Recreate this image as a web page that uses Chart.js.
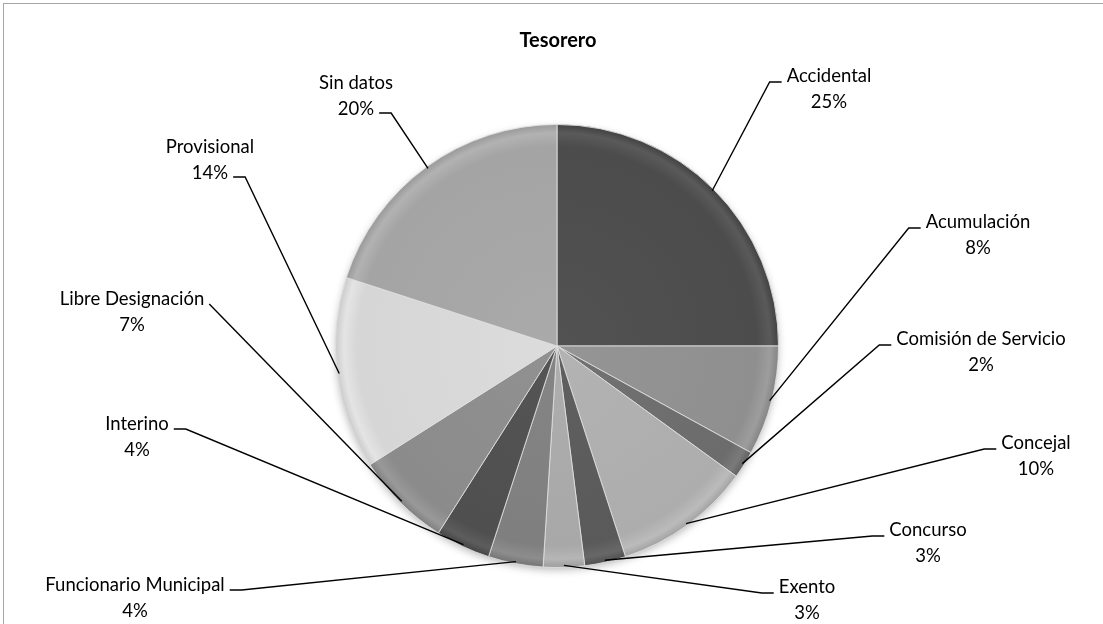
<!DOCTYPE html>
<html>
<head>
<meta charset="utf-8">
<title>Tesorero</title>
<script src="https://cdn.jsdelivr.net/npm/chart.js@4/dist/chart.umd.min.js"></script>
<style>
    html, body { margin: 0; padding: 0; background: #fff; }
    #wrap { width: 1103px; height: 624px; }
</style>
</head>
<body>
<div id="wrap"><canvas id="tesoreroChart" width="1103" height="624"></canvas></div>
<script>
// datos del gráfico (porcentajes)
const categories = ['Accidental', 'Acumulación', 'Comisión de Servicio', 'Concejal', 'Concurso', 'Exento',
    'Funcionario Municipal', 'Interino', 'Libre Designación', 'Provisional', 'Sin datos'];
const values = [25, 8, 2, 10, 3, 3, 4, 4, 7, 14, 20];
const chartTitle = 'Tesorero';

// tonos de gris de cada sector
const palette = ['#4c4c4c', '#8f8f8f', '#6c6c6c', '#adadad', '#5a5a5a', '#a8a8a8',
    '#7f7f7f', '#4f4f4f', '#8b8b8b', '#d6d6d6', '#a4a4a4'];

// posición de las etiquetas (centro del texto, primera línea) y lado de la guía
const labelLayout = [
    { x: 829, y: 76, side: 'left' },
    { x: 978, y: 222, side: 'left' },
    { x: 981, y: 339, side: 'left' },
    { x: 1036, y: 443, side: 'left' },
    { x: 928, y: 530, side: 'left' },
    { x: 807, y: 587, side: 'left' },
    { x: 135, y: 585, side: 'right1' },
    { x: 137, y: 424, side: 'right1' },
    { x: 132, y: 299, side: 'right1', seg: 0 },
    { x: 210, y: 147, side: 'right2' },
    { x: 356, y: 83, side: 'right2' }
];

const LABEL_FONT = '18.5px Lato, "Open Sans", sans-serif';
const LINE_GAP = 26;

function shade(hex, amt) {
    const n = parseInt(hex.slice(1), 16);
    const c = (v) => Math.max(0, Math.min(255, v + amt));
    const r = c(n >> 16), g = c((n >> 8) & 255), b = c(n & 255);
    return `rgb(${r},${g},${b})`;
}

function sliceFill(context) {
    const base = palette[context.dataIndex];
    const area = context.chart.chartArea;
    if (!area) return base;
    const cx = (area.left + area.right) / 2;
    const cy = (area.top + area.bottom) / 2;
    const r = Math.min(area.width, area.height) / 2;
    const g = context.chart.ctx.createRadialGradient(cx, cy, 0, cx, cy, r);
    g.addColorStop(0, shade(base, 6));
    g.addColorStop(0.9, base);
    g.addColorStop(0.96, shade(base, 14));
    g.addColorStop(1, shade(base, -12));
    return g;
}

// marco, título y sombra del pastel
const framePlugin = {
    id: 'frame',
    beforeDraw(chart) {
        const ctx = chart.ctx;
        ctx.save();
        ctx.fillStyle = '#fff';
        ctx.fillRect(0, 0, chart.width, chart.height);
        ctx.strokeStyle = '#a6a6a6';
        ctx.lineWidth = 1;
        ctx.strokeRect(3.5, 3.5, chart.width + 20, chart.height + 20);
        ctx.fillStyle = '#000';
        ctx.font = 'bold 20px Lato, "Open Sans", sans-serif';
        ctx.textAlign = 'center';
        ctx.textBaseline = 'middle';
        ctx.fillText(chartTitle, 558, 41);
        ctx.restore();
    },
    beforeDatasetsDraw(chart) {
        const arc = chart.getDatasetMeta(0).data[0];
        if (!arc) return;
        const p = arc.getProps(['x', 'y', 'outerRadius'], true);
        const ctx = chart.ctx;
        ctx.save();
        ctx.shadowColor = 'rgba(0,0,0,0.3)';
        ctx.shadowBlur = 9;
        ctx.shadowOffsetY = 3;
        ctx.fillStyle = '#aaa';
        ctx.beginPath();
        ctx.arc(p.x, p.y, p.outerRadius - 1, 0, Math.PI * 2);
        ctx.fill();
        ctx.restore();
    }
};

// etiquetas con líneas guía
const calloutPlugin = {
    id: 'callouts',
    afterDatasetsDraw(chart) {
        const ctx = chart.ctx;
        const arcs = chart.getDatasetMeta(0).data;
        const total = values.reduce((a, b) => a + b, 0);
        ctx.save();
        ctx.font = LABEL_FONT;
        ctx.textAlign = 'center';
        ctx.textBaseline = 'middle';
        ctx.strokeStyle = '#000';
        ctx.lineWidth = 1.4;
        arcs.forEach((arc, i) => {
            const p = arc.getProps(['x', 'y', 'startAngle', 'endAngle', 'outerRadius'], true);
            const mid = (p.startAngle + p.endAngle) / 2;
            const ax = p.x + Math.cos(mid) * (p.outerRadius - 2);
            const ay = p.y + Math.sin(mid) * (p.outerRadius - 2);
            const lay = labelLayout[i];
            const name = categories[i];
            const pct = Math.round(values[i] / total * 100) + '%';
            const seg = lay.seg === undefined ? 12 : lay.seg;

            let sx, sy, ex;
            if (lay.side === 'left') {
                const w = ctx.measureText(name).width;
                sx = lay.x - w / 2 - 5;
                sy = lay.y + 6;
                ex = sx - seg;
            } else if (lay.side === 'right1') {
                const w = ctx.measureText(name).width;
                sx = lay.x + w / 2 + 5;
                sy = lay.y + 5;
                ex = sx + seg;
            } else {
                const w = ctx.measureText(pct).width;
                sx = lay.x + w / 2 + 5;
                sy = lay.y + LINE_GAP + 4;
                ex = sx + seg;
            }
            ctx.beginPath();
            ctx.moveTo(ax, ay);
            ctx.lineTo(ex, sy);
            ctx.lineTo(sx, sy);
            ctx.stroke();

            ctx.fillStyle = '#000';
            ctx.fillText(name, lay.x, lay.y);
            ctx.fillText(pct, lay.x, lay.y + LINE_GAP);
        });
        ctx.restore();
    }
};

new Chart(document.getElementById('tesoreroChart'), {
    type: 'pie',
    data: {
        labels: categories,
        datasets: [{
            data: values,
            backgroundColor: sliceFill,
            borderColor: 'rgba(225,225,225,0.85)',
            borderWidth: 1
        }]
    },
    options: {
        responsive: false,
        animation: false,
        events: [],
        layout: { padding: { top: 124, bottom: 56, left: 335, right: 324 } },
        plugins: {
            legend: { display: false },
            tooltip: { enabled: false },
            title: { display: false }
        }
    },
    plugins: [framePlugin, calloutPlugin]
});
</script>
</body>
</html>
